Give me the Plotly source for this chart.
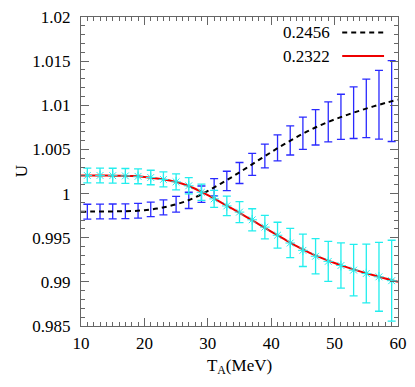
import plotly.graph_objects as go

# data points (T_A in MeV)
t_pts = [11, 13, 15, 17, 19, 21, 23, 25, 27, 29, 31, 33, 35,
         37, 39, 41, 43, 45, 47, 49, 51, 53, 55, 57, 59]
u_2456 = [0.99795, 0.99797, 0.99798, 0.99800, 0.99806, 0.99820, 0.99843,
          0.99879, 0.99923, 0.99993, 1.00072, 1.00143, 1.00233, 1.00330,
          1.00426, 1.00517, 1.00602, 1.00683, 1.00750, 1.00812, 1.00869,
          1.00916, 1.00965, 1.01006, 1.01048]
u_2322 = [1.00205, 1.00205, 1.00203, 1.00200, 1.00195, 1.00182, 1.00160,
          1.00133, 1.00088, 1.00015, 0.99940, 0.99860, 0.99790, 0.99703,
          0.99620, 0.99528, 0.99440, 0.99357, 0.99290, 0.99232, 0.99185,
          0.99133, 0.99095, 0.99057, 0.99013]
u_err = [0.00084, 0.00084, 0.00084, 0.00084, 0.00084, 0.00082, 0.00085,
         0.00090, 0.00092, 0.00093, 0.00097, 0.00110, 0.00119, 0.00125,
         0.00134, 0.00147, 0.00165, 0.00183, 0.00200, 0.00227, 0.00256,
         0.00292, 0.00332, 0.00390, 0.00458]

# fitted curves
t_fit = [10, 12, 14, 16, 18, 20, 22, 24, 26, 28, 30, 32, 34,
         36, 38, 40, 42, 44, 46, 48, 50, 52, 54, 56, 58, 60]
fit_2456 = [0.99794, 0.99796, 0.99797, 0.99799, 0.99802, 0.99812, 0.99830,
            0.99860, 0.99900, 0.99957, 1.00030, 1.00110, 1.00196, 1.00286,
            1.00378, 1.00469, 1.00557, 1.00640, 1.00715, 1.00781, 1.00840,
            1.00892, 1.00940, 1.00985, 1.01026, 1.01064]
fit_2322 = [1.00206, 1.00205, 1.00204, 1.00202, 1.00198, 1.00189, 1.00172,
            1.00148, 1.00112, 1.00055, 0.99982, 0.99904, 0.99823, 0.99740,
            0.99655, 0.99570, 0.99486, 0.99405, 0.99332, 0.99268, 0.99213,
            0.99164, 0.99119, 0.99078, 0.99039, 0.99002]

yticks = [0.985, 0.99, 0.995, 1.0, 1.005, 1.01, 1.015, 1.02]
ytext = ['0.985', '0.99', '0.995', '1', '1.005', '1.01', '1.015', '1.02']

fig = go.Figure()

fig.add_trace(go.Scatter(x=t_pts, y=u_2456, mode='markers',
                         marker=dict(size=2, color='rgba(0,0,0,0)'),
                         error_y=dict(type='data', array=u_err, color='#2a2aff',
                                      thickness=1.3, width=4),
                         showlegend=False))
fig.add_trace(go.Scatter(x=t_fit, y=fit_2456, mode='lines', line_shape='spline',
                         line=dict(color='black', width=2, dash='5px,4px'),
                         showlegend=False))
fig.add_trace(go.Scatter(x=t_fit, y=fit_2322, mode='lines', line_shape='spline',
                         line=dict(color='#ee0000', width=2),
                         showlegend=False))
fig.add_trace(go.Scatter(x=t_pts, y=u_2322, mode='markers',
                         marker=dict(symbol='asterisk-open', size=8, color='#22eeee',
                                     line=dict(color='#22eeee', width=1)),
                         error_y=dict(type='data', array=u_err, color='#22eeee',
                                      thickness=1.3, width=4),
                         showlegend=False))

# gnuplot-style key (text left of sample)
fig.add_annotation(x=0.792, y=0.950, xref='paper', yref='paper', text='0.2456',
                   showarrow=False, xanchor='right', yanchor='middle')
fig.add_annotation(x=0.792, y=0.871, xref='paper', yref='paper', text='0.2322',
                   showarrow=False, xanchor='right', yanchor='middle')
fig.add_shape(type='line', xref='paper', yref='paper', x0=0.824, x1=0.956,
              y0=0.950, y1=0.950, line=dict(color='black', width=2, dash='5px,4px'))
fig.add_shape(type='line', xref='paper', yref='paper', x0=0.824, x1=0.956,
              y0=0.874, y1=0.874, line=dict(color='#ee0000', width=2))

fig.add_annotation(x=-0.223, y=0.5, xref='paper', yref='paper', text='U',
                   showarrow=False, textangle=-90, font=dict(size=17))

axis_style = dict(showline=True, linecolor='#666666', linewidth=1, mirror='allticks',
                  ticks='inside', ticklen=8, tickcolor='#666666', showgrid=False,
                  zeroline=False, tickfont=dict(color='black', size=17),
                  ticklabeloverflow='allow')

fig.update_xaxes(range=[10, 60], dtick=10, tick0=10, ticklabelstandoff=2,
                 minor=dict(ticks='inside', dtick=1, ticklen=4, tickcolor='#666666'),
                 title=dict(text='T<sub>A</sub>(MeV)', font=dict(size=17), standoff=6),
                 **axis_style)
fig.update_yaxes(range=[0.985, 1.02], tickvals=yticks, ticktext=ytext,
                 ticklabelstandoff=6,
                 minor=dict(ticks='inside', dtick=0.001, tick0=0.985, ticklen=4,
                            tickcolor='#666666'),
                 **axis_style)

fig.update_layout(
    width=415, height=387,
    margin=dict(l=81, r=16, t=8, b=61),
    paper_bgcolor='white', plot_bgcolor='white',
    font=dict(family='Liberation Serif, Times New Roman, serif', size=17, color='black'),
)

fig.write_html("out.html", config={'displayModeBar': False},
               post_script="document.body.style.margin='0';")
